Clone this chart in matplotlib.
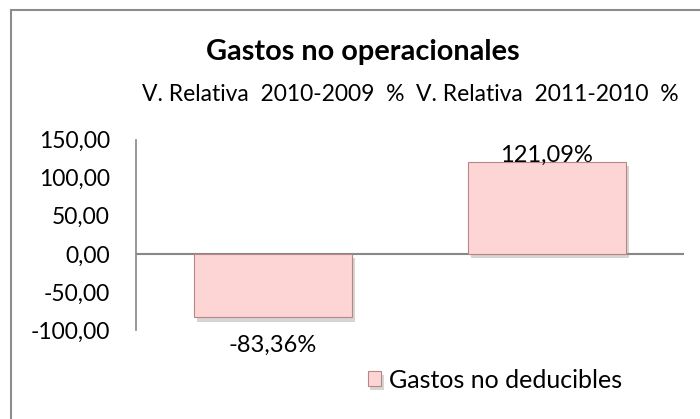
import matplotlib.pyplot as plt
import matplotlib.patheffects as pe
from matplotlib.patches import Rectangle
from matplotlib.ticker import FuncFormatter

plt.rcParams['font.family'] = ['Lato', 'DejaVu Sans']

categorias = ['V. Relativa  2010-2009  %', 'V. Relativa  2011-2010  %']
valores = [-83.36, 121.09]
etiquetas = ['-83,36%', '121,09%']
serie = 'Gastos no deducibles'

fig = plt.figure(figsize=(7, 4.19), dpi=100)
ax = fig.add_axes([0.194, 0.2124, 0.783, 0.4542])

x = range(len(valores))
bars = ax.bar(x, valores, width=0.577, color='#FDD5D5', edgecolor='#B98585',
              linewidth=0.8, label=serie, zorder=3)
for b in bars:
    b.set_path_effects([pe.SimplePatchShadow(offset=(2, -3), shadow_rgbFace='#888888', alpha=0.35),
                        pe.Normal()])

ax.set_xlim(-0.5, 1.5)
ax.set_ylim(-100, 150)
ax.set_yticks([-100, -50, 0, 50, 100, 150])
ax.yaxis.set_major_formatter(FuncFormatter(lambda v, p: f'{v:.2f}'.replace('.', ',')))
ax.tick_params(axis='y', length=0, pad=18.7, labelsize=16.5)
ax.set_xticks([])
for s in ['top', 'right', 'bottom']:
    ax.spines[s].set_visible(False)
ax.spines['left'].set_color('#888888')
ax.spines['left'].set_linewidth(1.2)
ax.axhline(0, color='#888888', lw=1.5, zorder=2)

for i, c in enumerate(categorias):
    ax.text(i, 1.24, c, transform=ax.get_xaxis_transform(), ha='center', va='center', fontsize=16.5)

ax.text(1, 129, etiquetas[1], ha='center', va='center', fontsize=17, zorder=4)
ax.text(0, -120, etiquetas[0], ha='center', va='center', fontsize=17, zorder=4, clip_on=False)

fig.text(0.519, 0.876, 'Gastos no operacionales', ha='center', va='center',
         fontsize=20.8, fontweight='bold')

fig.legend(handles=[bars[0]], labels=[serie], loc='center', bbox_to_anchor=(0.707, 0.093),
           frameon=False, fontsize=18, handlelength=0.55, handleheight=0.55, handletextpad=0.3)

border = Rectangle((11 / 700, -0.5), 1.5, 1 - 10 / 419 + 0.5, transform=fig.transFigure,
                   fill=False, edgecolor='#8C8C8C', lw=1.5)
fig.patches.append(border)

fig.savefig('out.png')
